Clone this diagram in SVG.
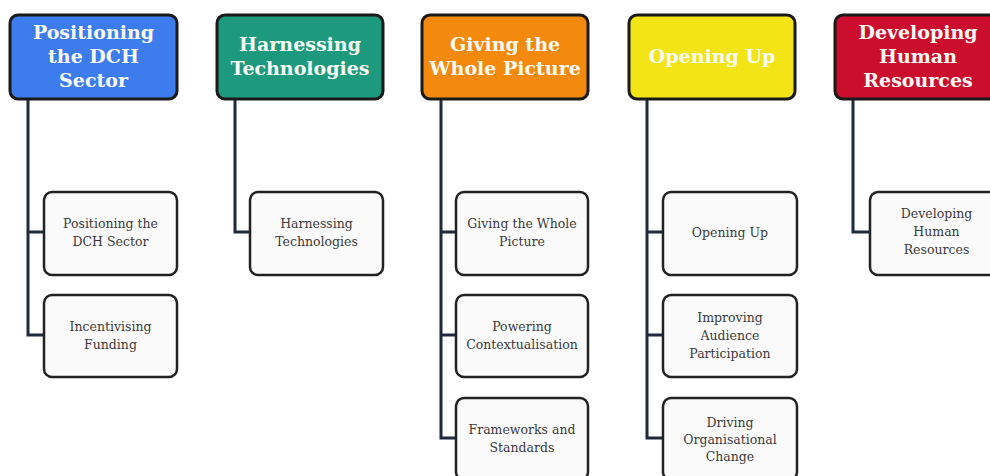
<svg xmlns="http://www.w3.org/2000/svg" width="990" height="476" viewBox="0 0 990 476">
<style>
.hdr{stroke:#1a1a1a;stroke-width:3}
.ht{font-family:"DejaVu Serif",serif;font-weight:bold;font-size:19px;fill:#fbfbf6;text-anchor:middle}
.child{fill:#fafafa;stroke:#222;stroke-width:2.5}
.ct{font-family:"DejaVu Serif",serif;font-size:12.5px;fill:#3a3a3a;text-anchor:middle}
.conn{fill:none;stroke:#1f2b3d;stroke-width:3}
</style>
<rect width="990" height="476" fill="#ffffff"/>
<g id="connectors">
<path class="conn" d="M28 99 V335 H44 M28 232 H44"/>
<path class="conn" d="M235 99 V232 H250"/>
<path class="conn" d="M441 99 V438 H456 M441 232 H456 M441 335 H456"/>
<path class="conn" d="M647 99 V438 H663 M647 232 H663 M647 335 H663"/>
<path class="conn" d="M853 99 V232 H870"/>
</g>
<g id="h1"><rect class="hdr" x="10" y="15" width="167" height="84" rx="8" fill="#3d7cec"/>
<text class="ht" x="93.5" y="39">Positioning</text><text class="ht" x="93.5" y="63">the DCH</text><text class="ht" x="93.5" y="87">Sector</text></g>
<g id="h2"><rect class="hdr" x="217" y="15" width="166" height="84" rx="8" fill="#1d9a7d"/>
<text class="ht" x="300" y="51">Harnessing</text><text class="ht" x="300" y="75">Technologies</text></g>
<g id="h3"><rect class="hdr" x="422" y="15" width="166" height="84" rx="8" fill="#f38a0e"/>
<text class="ht" x="505" y="51">Giving the</text><text class="ht" x="505" y="75">Whole Picture</text></g>
<g id="h4"><rect class="hdr" x="629" y="15" width="166" height="84" rx="8" fill="#f2e415"/>
<text class="ht" x="712" y="63">Opening Up</text></g>
<g id="h5"><rect class="hdr" x="835" y="15" width="166" height="84" rx="8" fill="#cc0e2e"/>
<text class="ht" x="918" y="39">Developing</text><text class="ht" x="918" y="63">Human</text><text class="ht" x="918" y="87">Resources</text></g>

<g id="c1a"><rect class="child" x="44" y="192" width="133" height="83" rx="8"/>
<text class="ct" x="110.5" y="228">Positioning the</text><text class="ct" x="110.5" y="246">DCH Sector</text></g>
<g id="c1b"><rect class="child" x="44" y="295" width="133" height="82" rx="8"/>
<text class="ct" x="110.5" y="331">Incentivising</text><text class="ct" x="110.5" y="349">Funding</text></g>
<g id="c2a"><rect class="child" x="250" y="192" width="133" height="83" rx="8"/>
<text class="ct" x="316.5" y="228">Harnessing</text><text class="ct" x="316.5" y="246">Technologies</text></g>
<g id="c3a"><rect class="child" x="456" y="192" width="132" height="83" rx="8"/>
<text class="ct" x="522" y="228">Giving the Whole</text><text class="ct" x="522" y="246">Picture</text></g>
<g id="c3b"><rect class="child" x="456" y="295" width="132" height="82" rx="8"/>
<text class="ct" x="522" y="331">Powering</text><text class="ct" x="522" y="349">Contextualisation</text></g>
<g id="c3c"><rect class="child" x="456" y="398" width="132" height="82" rx="8"/>
<text class="ct" x="522" y="434">Frameworks and</text><text class="ct" x="522" y="452">Standards</text></g>
<g id="c4a"><rect class="child" x="663" y="192" width="134" height="83" rx="8"/>
<text class="ct" x="730" y="237">Opening Up</text></g>
<g id="c4b"><rect class="child" x="663" y="295" width="134" height="82" rx="8"/>
<text class="ct" x="730" y="322">Improving</text><text class="ct" x="730" y="340">Audience</text><text class="ct" x="730" y="358">Participation</text></g>
<g id="c4c"><rect class="child" x="663" y="398" width="134" height="82" rx="8"/>
<text class="ct" x="730" y="427">Driving</text><text class="ct" x="730" y="444">Organisational</text><text class="ct" x="730" y="461">Change</text></g>
<g id="c5a"><rect class="child" x="870" y="192" width="133" height="83" rx="8"/>
<text class="ct" x="936.5" y="218">Developing</text><text class="ct" x="936.5" y="236">Human</text><text class="ct" x="936.5" y="254">Resources</text></g>
</svg>
